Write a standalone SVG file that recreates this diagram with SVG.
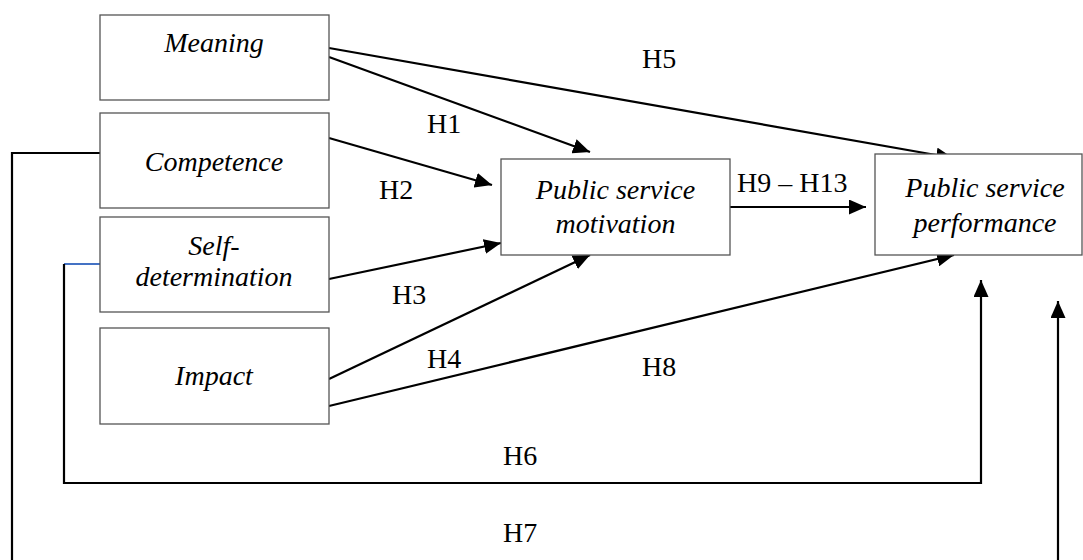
<svg xmlns="http://www.w3.org/2000/svg" width="1083" height="560" viewBox="0 0 1083 560">
<style>
.box{fill:#fff;stroke:#555;stroke-width:1.3}
.lbl{font-family:"Liberation Serif","Times New Roman",serif;font-size:28px;font-style:italic;fill:#000;text-anchor:middle}
.h{font-family:"Liberation Serif","Times New Roman",serif;font-size:28px;fill:#000}
.ln{fill:none;stroke:#000;stroke-width:2.2}
.arr{fill:none;stroke:#000;stroke-width:2.2;marker-end:url(#ah)}
</style>
<defs>
<marker id="ah" markerUnits="userSpaceOnUse" markerWidth="17" markerHeight="15" refX="17" refY="7.5" orient="auto" viewBox="0 0 17 15">
<path d="M0,0 L17,7.5 L0,15 z" fill="#000"/>
</marker>
</defs>
<rect width="1083" height="560" fill="#fff"/>
<g id="connectors">
<line class="arr" x1="329" y1="48" x2="953" y2="158"/>
<line class="arr" x1="329" y1="57" x2="590" y2="152"/>
<line class="arr" x1="329" y1="138" x2="492" y2="185"/>
<line class="arr" x1="329" y1="279" x2="501" y2="243"/>
<line class="arr" x1="329" y1="379" x2="590" y2="255"/>
<line class="arr" x1="329" y1="406" x2="954" y2="255"/>
<line class="arr" x1="730" y1="207" x2="866" y2="207"/>
<line x1="64" y1="264" x2="100" y2="264" stroke="#4472C4" stroke-width="2"/>
<path class="arr" d="M64,264 V483 H981 V280"/>
<path class="ln" d="M100,153 H12 V560"/>
<path class="arr" d="M1058,560 V301"/>
</g>
<g id="labels">
<text class="h" x="642" y="68">H5</text>
<text class="h" x="427" y="133">H1</text>
<text class="h" x="379" y="199">H2</text>
<text class="h" x="392" y="304">H3</text>
<text class="h" x="427" y="368">H4</text>
<text class="h" x="642" y="376">H8</text>
<text class="h" x="737" y="192">H9 – H13</text>
<text class="h" x="503" y="465">H6</text>
<text class="h" x="503" y="542">H7</text>
</g>
<g id="meaning">
<rect class="box" x="100" y="15" width="229" height="85"/>
<text class="lbl" x="214" y="52">Meaning</text>
</g>
<g id="competence">
<rect class="box" x="100" y="113" width="229" height="95"/>
<text class="lbl" x="214" y="171">Competence</text>
</g>
<g id="self-determination">
<rect class="box" x="100" y="217" width="229" height="95"/>
<text class="lbl" x="214" y="255">Self-</text>
<text class="lbl" x="214" y="286">determination</text>
</g>
<g id="impact">
<rect class="box" x="100" y="328" width="229" height="96"/>
<text class="lbl" x="214" y="385">Impact</text>
</g>
<g id="psm">
<rect class="box" x="501" y="159" width="229" height="96"/>
<text class="lbl" x="615.5" y="199">Public service</text>
<text class="lbl" x="615.5" y="233">motivation</text>
</g>
<g id="psp">
<rect class="box" x="875" y="154" width="207" height="101"/>
<text class="lbl" x="985" y="197">Public service</text>
<text class="lbl" x="985" y="232">performance</text>
</g>
</svg>
